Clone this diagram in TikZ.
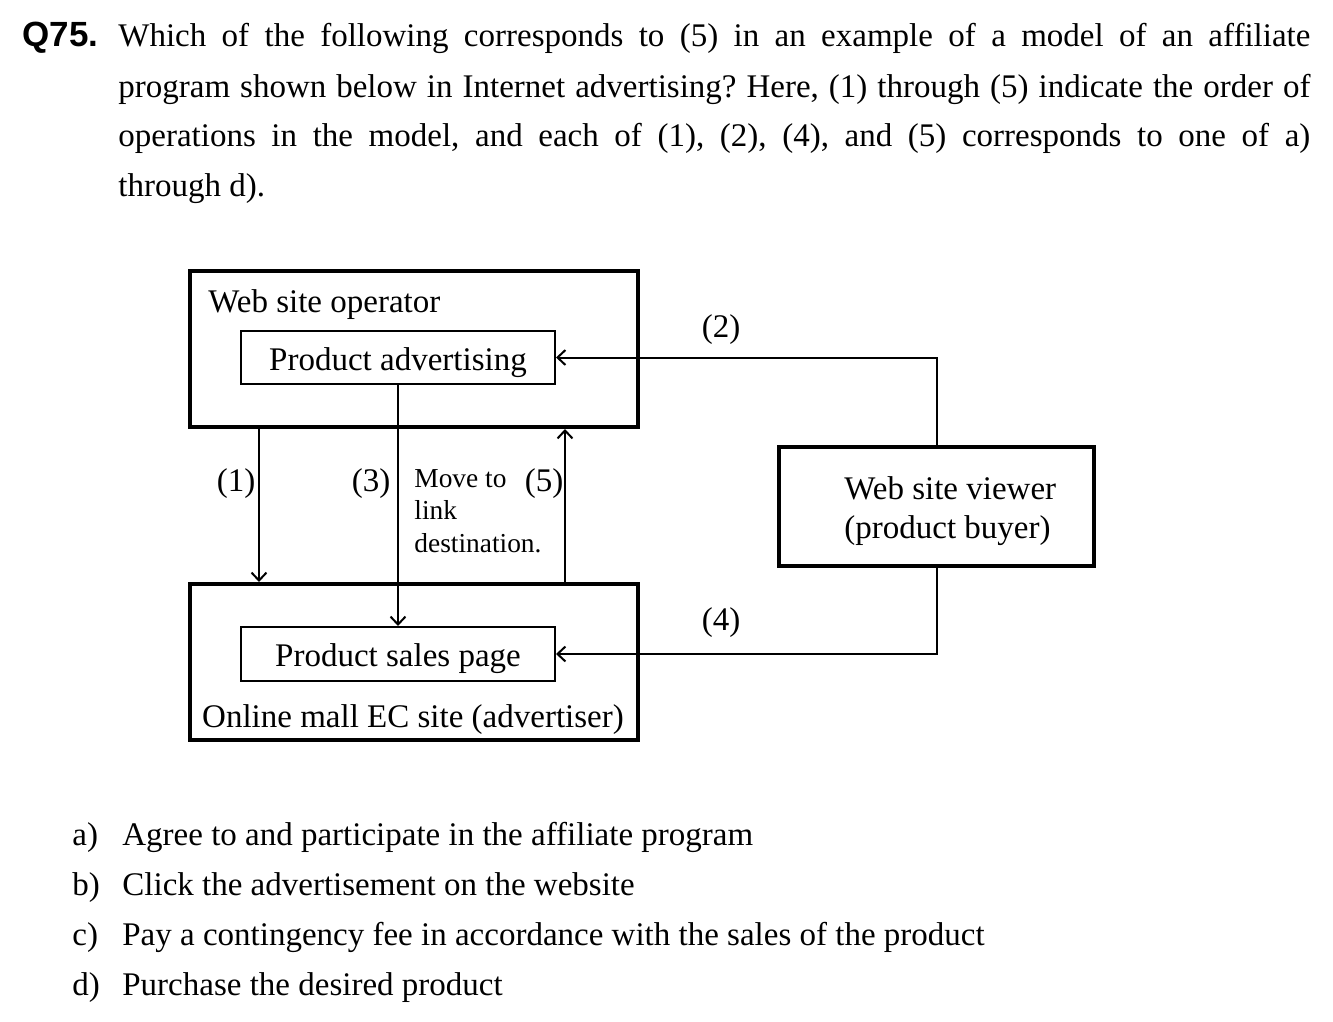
\documentclass[tikz,border=0pt]{standalone}
\usepackage{fontspec}
\setmainfont{Liberation Serif}
\newfontfamily\qfont{Liberation Sans}
\usetikzlibrary{arrows.meta}

\begin{document}
\frenchspacing
\begin{tikzpicture}[x=0.5pt,y=-0.5pt,inner sep=0pt,
  font=\fontsize{16.5}{25}\selectfont,
  bigbox/.style={draw,line width=2pt},
  smallbox/.style={draw,line width=1pt,text height=12.5pt,text depth=0pt},
  arr/.style={line width=1pt,-{Straight Barb[length=4pt,width=7.5pt,line width=1pt]}}]
\useasboundingbox (0,0) rectangle (1333,1022);

\node (qnum) [anchor=base west,font=\qfont\bfseries\fontsize{17.5}{25}\selectfont] at (22,47) {Q75.};
\node (qtext) [anchor=base west] at (118,47) {\parbox[t]{596pt}{\hbadness=10000
Which of the following corresponds to (5) in an example of a model of an affiliate\linebreak
program shown below in Internet advertising? Here, (1) through (5) indicate the order of\linebreak
operations in the model, and each of (1), (2), (4), and (5) corresponds to one of a)\linebreak
through d).}};

\node (oper) [bigbox,minimum width=224pt,minimum height=78pt] at (414,349) {};
\node (opertitle) [anchor=base west] at (208,312) {Web site operator};
\node (adv) [smallbox,minimum width=157pt,minimum height=26.5pt] at (398,357.5) {Product advertising};

\node (mall) [bigbox,minimum width=224pt,minimum height=78pt] at (414,662) {};
\node (malltitle) [anchor=base] at (413,727) {Online mall EC site (advertiser)};
\node (sales) [smallbox,minimum width=157pt,minimum height=27pt] at (398,654) {Product sales page};

\node (viewer) [bigbox,minimum width=157.5pt,minimum height=59.5pt] at (936.5,506.5) {};
\node (viewertitle) [anchor=base west] at (844,499) {\parbox[t]{120pt}{\fontsize{16.5}{19.5}\selectfont
Web site viewer\\(product buyer)}};

\draw [arr] ([xshift=35.5pt]oper.south west) -- ([xshift=35.5pt]mall.north west);
\draw [arr] (adv.south) -- (sales.north);
\draw [arr] ([xshift=188.5pt]mall.north west) -- ([xshift=188.5pt]oper.south west);
\draw [arr] (viewer.north) |- (adv.east);
\draw [arr] (viewer.south) |- (sales.east);

\node (l1) at (236,484) {(1)};
\node (l2) at (721,330) {(2)};
\node (l3) at (371,484) {(3)};
\node (l4) at (721,623) {(4)};
\node (l5) at (544,484) {(5)};
\node (move) [anchor=base west] at (414,487) {\parbox[t]{80pt}{\fontsize{13.7}{16.25}\selectfont
Move to\\link\\destination.}};

\node (ka) [anchor=base west] at (72,845) {a)};
\node (ta) [anchor=base west] at (122,845) {Agree to and participate in the affiliate program};
\node (kb) [anchor=base west] at (72,895) {b)};
\node (tb) [anchor=base west] at (122,895) {Click the advertisement on the website};
\node (kc) [anchor=base west] at (72,945) {c)};
\node (tc) [anchor=base west] at (122,945) {Pay a contingency fee in accordance with the sales of the product};
\node (kd) [anchor=base west] at (72,995) {d)};
\node (td) [anchor=base west] at (122,995) {Purchase the desired product};
\end{tikzpicture}
\end{document}
